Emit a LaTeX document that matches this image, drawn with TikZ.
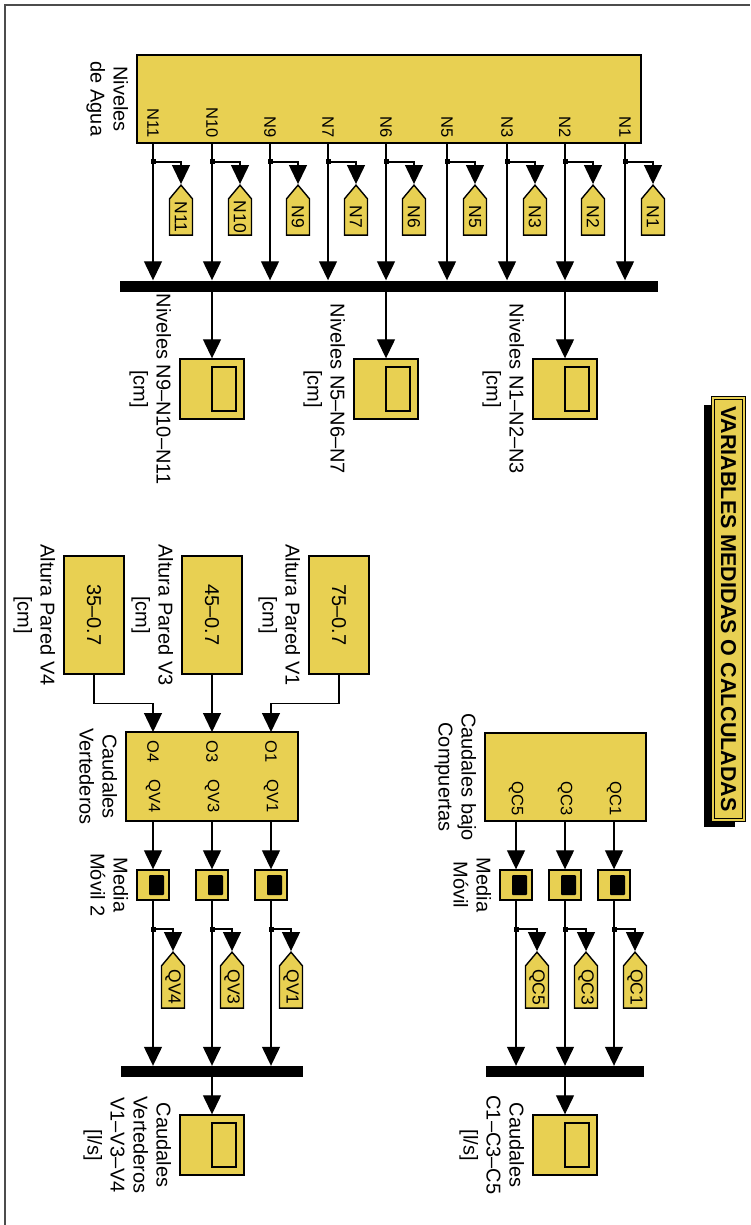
\documentclass[tikz,border=0pt]{standalone}
\usepackage{fontspec}
\setmainfont{Liberation Sans}
\usetikzlibrary{arrows.meta,positioning,shapes.symbols}
\definecolor{blkyel}{RGB}{232,208,82}

\begin{document}
\begin{tikzpicture}[x=1pt,y=-1pt]
    % Styles
    \tikzset{
      wire/.style={line width=1.3pt},
      sig/.style={wire,-{Triangle[length=19pt,width=18pt]}},
      blk/.style={draw,line width=1.4pt,fill=blkyel,inner sep=0pt},
      busbar/.style={fill=black,inner sep=0pt,minimum height=11pt},
      brdot/.style={fill=black,inner sep=0pt,minimum size=5pt},
      tagbox/.style={signal,signal to=west,signal from=nowhere,signal pointer angle=80,
        draw,line width=1.4pt,fill=blkyel,rotate=-90,inner sep=0pt,
        minimum width=56pt,minimum height=23pt,font=\fontsize{17.5}{19}\selectfont},
      blkname/.style={rotate=-90,anchor=north,align=center,inner sep=0pt,
        font=\fontsize{20}{23}\selectfont},
      plbl/.style={rotate=-90,inner sep=0pt,font=\fontsize{16.5}{18}\selectfont},
      scopebox/.style={blk,minimum width=64pt,minimum height=60pt,
        path picture={\draw[line width=1.4pt] ([yshift=22pt]path picture bounding box.center) rectangle ++(24pt,-44pt);}},
      mmbox/.style={blk,minimum width=32pt,minimum height=30pt,
        path picture={\fill[black,rounded corners=1pt] ([xshift=-4pt,yshift=10pt]path picture bounding box.center) rectangle ++(15pt,-20pt);}}
    }
    \useasboundingbox (0,0) rectangle (750,1225);

    % --- Frame ---
    \draw[line width=1.5pt,black!70] (5,1225) -- (5,5) -- (750,5);

    % --- Title ---
    \fill[black] (704,405) rectangle (735,827);
    \node[blk,rotate=-90,minimum width=422pt,minimum height=31pt,line width=0.9pt,
      double=blkyel,double distance=1.6pt,font=\bfseries\fontsize{21.5}{24}\selectfont]
      (ttl) at (728.5,609) {VARIABLES MEDIDAS O CALCULADAS};

    % --- Niveles de Agua ---
    \node[blk,minimum width=504pt,minimum height=88pt] (niv) at (389,99) {};
    \node[blkname] (nivlbl) at ([xshift=-8pt]niv.west) {Niveles\\de Agua};
    \node[busbar,minimum width=538pt] (busN) at (389,286) {};

    \foreach \x/\n in {153/11,212/10,270/9,328/7,386/6,447/5,507/3,565/2,625/1}{
      \coordinate (pN\n) at (\x,143);
      \node[plbl,anchor=east] (lN\n) at (\x,138) {N\n};
      \node[brdot] (dN\n) at (\x,162) {};
      \node[tagbox,minimum width=50pt] (tN\n) at (\x+28,217) {N\n};
      \draw[sig] (pN\n) -- (pN\n |- busN.north);
      \draw[sig] (dN\n.center) -| (tN\n.west);
    }

    % Displays of levels
    \node[scopebox] (scN1) at (212,389) {};
    \node[scopebox] (scN2) at (386,389) {};
    \node[scopebox] (scN3) at (565,389) {};
    \draw[sig] (busN.south -| scN1.north) -- (scN1.north);
    \draw[sig] (busN.south -| scN2.north) -- (scN2.north);
    \draw[sig] (busN.south -| scN3.north) -- (scN3.north);
    \node[blkname] (lscN1) at ([xshift=-8pt]scN1.west) {Niveles N9--N10--N11\\{}[cm]};
    \node[blkname] (lscN2) at ([xshift=-8pt]scN2.west) {Niveles N5--N6--N7\\{}[cm]};
    \node[blkname] (lscN3) at ([xshift=-8pt]scN3.west) {Niveles N1--N2--N3\\{}[cm]};

    % --- Caudales bajo compuertas ---
    \node[blk,minimum width=161pt,minimum height=88pt] (qc) at (565.5,777) {};
    \node[blkname] (qclbl) at ([xshift=-8pt]qc.west) {Caudales bajo\\Compuertas};
    \node[busbar,minimum width=158pt] (busC) at (565,1071.5) {};

    \foreach \x/\n in {516/5,565/3,614/1}{
      \node[plbl,anchor=east] (lQC\n) at (\x,816) {QC\n};
      \node[mmbox] (mmC\n) at (\x,885) {};
      \node[brdot] (dC\n) at (\x,929) {};
      \node[tagbox] (tC\n) at (\x+21,987) {QC\n};
      \draw[sig] (qc.south -| mmC\n.north) -- (mmC\n.north);
      \draw[sig] (mmC\n.south) -- (mmC\n.south |- busC.north);
      \draw[sig] (dC\n.center) -| (tC\n.west);
    }
    \node[blkname] (mmClbl) at ([xshift=-8pt]mmC5.west) {Media\\M\'ovil};

    \node[scopebox] (scC) at (565,1145) {};
    \draw[sig] (busC.south) -- (scC.north);
    \node[blkname] (lscC) at ([xshift=-8pt]scC.west) {Caudales\\C1--C3--C5\\{}[l/s]};

    % --- Caudales vertederos ---
    \node[blk,rotate=-90,minimum width=118pt,minimum height=60pt,font=\fontsize{20}{23}\selectfont] (kV1) at (339,615) {75--0.7};
    \node[blk,rotate=-90,minimum width=118pt,minimum height=60pt,font=\fontsize{20}{23}\selectfont] (kV3) at (212,615) {45--0.7};
    \node[blk,rotate=-90,minimum width=118pt,minimum height=60pt,font=\fontsize{20}{23}\selectfont] (kV4) at (94,615) {35--0.7};
    \node[blkname] (lkV1) at ([xshift=-8pt]kV1.south) {Altura Pared V1\\{}[cm]};
    \node[blkname] (lkV3) at ([xshift=-8pt]kV3.south) {Altura Pared V3\\{}[cm]};
    \node[blkname] (lkV4) at ([xshift=-8pt]kV4.south) {Altura Pared V4\\{}[cm]};

    \node[blk,minimum width=172pt,minimum height=89pt] (cv) at (212,776.5) {};
    \node[blkname] (cvlbl) at ([xshift=-8pt]cv.west) {Caudales\\Vertederos};
    \coordinate (iO1) at (271,732);
    \coordinate (iO3) at (212,732);
    \coordinate (iO4) at (153,732);
    \draw[sig] (kV1.east) -- ++(0,29) -| (iO1);
    \draw[sig] (kV3.east) -- (iO3);
    \draw[sig] (kV4.east) -- ++(0,29) -| (iO4);
    \node[busbar,minimum width=182pt] (busV) at (212,1071.5) {};

    \foreach \x/\n in {271/1,212/3,153/4}{
      \node[plbl,anchor=west] (lO\n) at (\x,740) {O\n};
      \node[plbl,anchor=east] (lQV\n) at (\x,813) {QV\n};
      \node[mmbox] (mmV\n) at (\x,885) {};
      \node[brdot] (dV\n) at (\x,929) {};
      \node[tagbox] (tV\n) at (\x+20,987) {QV\n};
      \draw[sig] (cv.south -| mmV\n.north) -- (mmV\n.north);
      \draw[sig] (mmV\n.south) -- (mmV\n.south |- busV.north);
      \draw[sig] (dV\n.center) -| (tV\n.west);
    }
    \node[blkname] (mmVlbl) at ([xshift=-8pt]mmV4.west) {Media\\M\'ovil 2};

    \node[scopebox] (scV) at (212,1145) {};
    \draw[sig] (busV.south) -- (scV.north);
    \node[blkname] (lscV) at ([xshift=-8pt]scV.west) {Caudales\\Vertederos\\V1--V3--V4\\{}[l/s]};
\end{tikzpicture}
\end{document}
